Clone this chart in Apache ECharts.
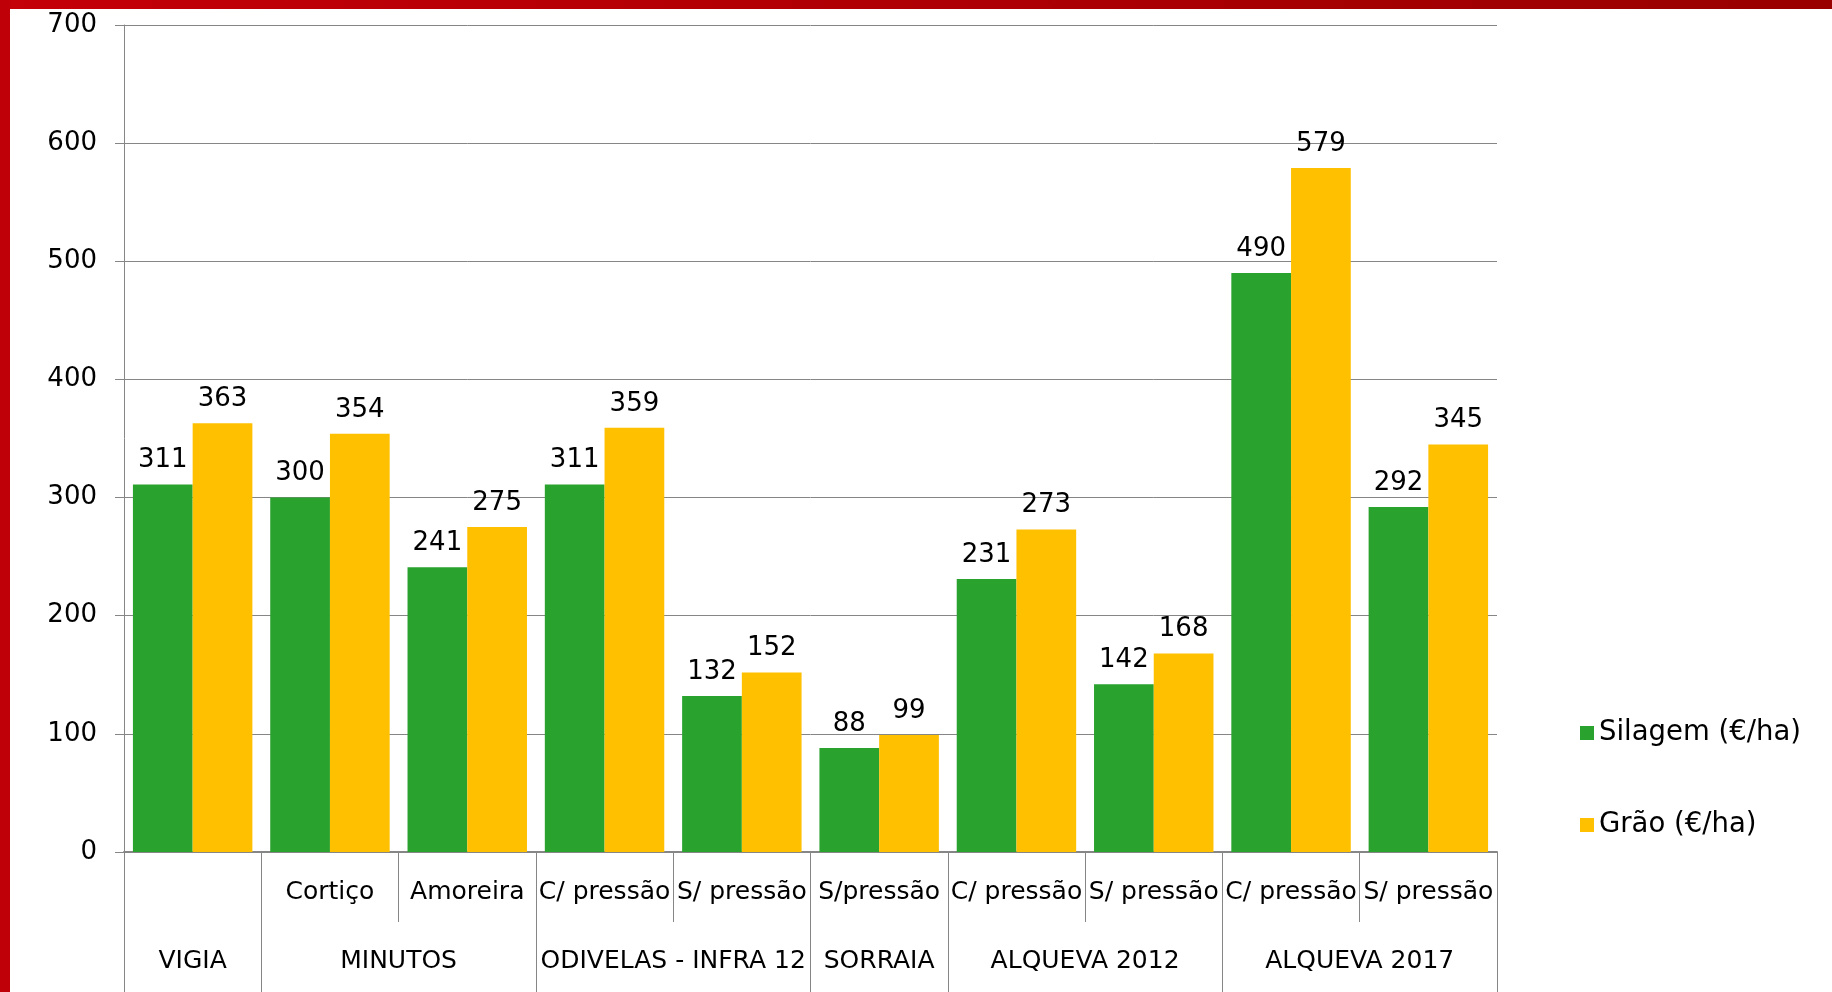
<!DOCTYPE html>
<html>
<head>
<meta charset="utf-8">
<script src="https://cdn.jsdelivr.net/npm/echarts@6/dist/echarts.min.js"></script>
<style>
html,body{margin:0;padding:0;background:#fff;}
#chart{width:1832px;height:992px;}
</style>
</head>
<body>
<div id="chart"></div>
<script>
const subCategories = ['', 'Cortiço', 'Amoreira', 'C/ pressão', 'S/ pressão', 'S/pressão', 'C/ pressão', 'S/ pressão', 'C/ pressão', 'S/ pressão'];
const groupNames = ['VIGIA', 'MINUTOS', 'ODIVELAS - INFRA 12', 'SORRAIA', 'ALQUEVA 2012', 'ALQUEVA 2017'];
const groupSizes = [1, 2, 2, 1, 2, 2];
const silagem = [311, 300, 241, 311, 132, 88, 231, 142, 490, 292];
const grao = [363, 354, 275, 359, 152, 99, 273, 168, 579, 345];
const yTicks = [0, 100, 200, 300, 400, 500, 600, 700];

const boundaries = [0];
const centers = [];
groupSizes.forEach(s => {
  const start = boundaries[boundaries.length - 1];
  centers.push(start + s / 2);
  boundaries.push(start + s);
});

const FONT = 'DejaVu Sans';
const chart = echarts.init(document.getElementById('chart'));
const option = {
  animation: false,
  backgroundColor: '#fff',
  graphic: [
    { type: 'rect', left: 0, top: 0, shape: { width: 1832, height: 9 },
      style: { fill: new echarts.graphic.LinearGradient(0, 0, 1, 0, [{offset: 0, color: '#C40008'}, {offset: 1, color: '#990000'}]) }, z: 100 },
    { type: 'rect', left: 0, top: 0, shape: { width: 10, height: 992 }, style: { fill: '#C00008' }, z: 100 }
  ],
  grid: { left: 124, right: 335, top: 25, bottom: 140, containLabel: false },
  legend: {
    orient: 'vertical', left: 1575, top: 714,
    itemWidth: 14, itemHeight: 14, itemGap: 64, icon: 'rect',
    textStyle: { fontFamily: FONT, fontSize: 27.5, color: '#000' },
    data: ['Silagem (€/ha)', 'Grão (€/ha)']
  },
  xAxis: [
    {
      type: 'category', data: subCategories, position: 'bottom',
      axisLine: { show: true, lineStyle: { color: '#868686', width: 2 } },
      axisTick: { show: true, interval: 0, length: 70, lineStyle: { color: '#868686', width: 1 } },
      axisLabel: { interval: 0, margin: 28, fontFamily: FONT, fontSize: 25, color: '#000' }
    },
    {
      type: 'value', min: 0, max: 10, position: 'bottom', offset: 0,
      axisLine: { show: false },
      splitLine: { show: false },
      axisTick: { show: true, length: 140, customValues: boundaries, lineStyle: { color: '#868686', width: 1 } },
      axisLabel: {
        show: true, margin: 97, customValues: centers,
        fontFamily: FONT, fontSize: 25, color: '#000',
        formatter: v => { const i = centers.indexOf(v); return i >= 0 ? groupNames[i] : ''; }
      }
    }
  ],
  yAxis: {
    type: 'value', min: yTicks[0], max: yTicks[yTicks.length - 1], interval: 100,
    axisLine: { show: true, lineStyle: { color: '#868686', width: 1 } },
    axisTick: { show: true, length: 9, lineStyle: { color: '#868686' } },
    splitLine: { show: true, lineStyle: { color: '#868686', width: 1 } },
    axisLabel: { margin: 27, fontFamily: FONT, fontSize: 26, color: '#000' }
  },
  series: [
    {
      name: 'Silagem (€/ha)', type: 'bar', data: silagem, xAxisIndex: 0,
      barGap: '0%', barCategoryGap: '13%',
      itemStyle: { color: '#2AA22E' },
      label: { show: true, position: 'top', distance: 11, fontFamily: FONT, fontSize: 26, color: '#000' }
    },
    {
      name: 'Grão (€/ha)', type: 'bar', data: grao, xAxisIndex: 0,
      barGap: '0%', barCategoryGap: '13%',
      itemStyle: { color: '#FFC000' },
      label: { show: true, position: 'top', distance: 11, fontFamily: FONT, fontSize: 26, color: '#000' }
    }
  ]
};
chart.setOption(option);
</script>
</body>
</html>
